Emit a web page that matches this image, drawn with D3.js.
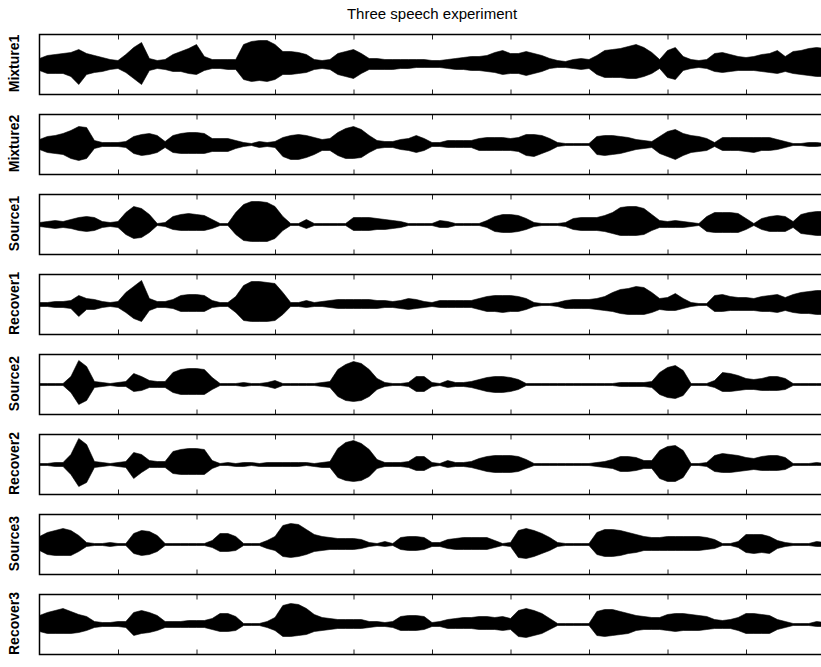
<!DOCTYPE html>
<html>
<head>
<meta charset="utf-8">
<script src="https://cdn.jsdelivr.net/npm/d3@7"></script>
<style>
  html, body { margin: 0; padding: 0; background: #fff; }
  svg { display: block; }
</style>
</head>
<body>
<svg id="chart" width="821" height="667"></svg>
<script>
// ---------------- DATA (envelope amplitudes, sample step 0.1 tick units) ----------------
const titleText = "Three speech experiment";
const panelLabels = ["Mixture1", "Mixture2", "Source1", "Recover1", "Source2", "Recover2", "Source3", "Recover3"];
const xTickValues = [1, 2, 3, 4, 5, 6, 7, 8, 9];
const sampleStep = 0.1;

const mixture1Upper = [6,9,10,11,12,15,11,9,7,5,4,10,17,22,6,4,5,10,13,16,20,8,5,5,5,5,20,23,24,24,20,13,13,12,10,5,4,5,11,13,15,11,6,6,5,5,5,5,5,5,4,4,5,6,7,8,8,9,12,14,11,11,13,11,9,6,4,3,5,6,5,9,14,15,16,18,20,17,12,5,14,17,8,5,4,5,11,12,10,8,7,8,10,11,14,8,13,14,16,17,16];
const mixture1Lower = [6,9,9,9,12,20,10,8,7,5,4,8,14,20,6,4,5,7,7,9,10,6,4,4,5,5,15,17,16,17,15,10,10,9,8,5,4,5,10,12,14,9,5,5,5,5,4,4,3,3,3,3,4,5,5,6,6,7,8,10,9,9,11,9,7,4,3,3,4,5,4,10,13,13,13,14,14,12,9,4,13,15,6,4,3,4,7,8,7,6,6,6,7,8,9,7,9,10,11,12,12];

const mixture2Upper = [5,8,9,11,14,18,17,4,2,2,2,3,8,10,11,9,3,9,11,12,12,11,6,6,6,4,2,1,3,2,3,7,9,10,9,7,5,6,12,16,18,15,9,4,3,3,5,6,9,6,2,2,4,4,4,4,6,7,7,7,6,7,10,10,9,6,2,1,1,1,1,8,9,9,8,7,5,4,3,8,13,15,11,9,8,6,2,7,7,7,7,7,7,7,5,3,1,1,2,2,1];
const mixture2Lower = [5,8,9,10,14,16,14,4,2,2,2,3,9,11,10,8,3,8,9,9,9,9,7,7,7,4,2,1,3,2,3,12,15,15,13,10,6,6,11,14,14,13,8,4,3,3,5,6,8,6,2,2,3,3,3,3,6,6,6,6,6,7,11,12,9,6,2,1,1,1,1,10,11,10,9,7,5,4,3,9,12,15,11,8,7,6,2,6,6,6,7,8,6,6,5,3,1,1,2,2,1];

const source1Upper = [2,3,4,3,5,7,8,7,3,2,3,12,18,16,10,1,2,8,10,11,10,9,5,1,1,12,20,23,23,22,18,8,1,1,5,1,1,1,1,1,7,7,7,6,5,4,3,1,1,1,1,4,3,1,1,1,1,4,8,10,10,9,6,2,1,1,1,2,6,7,7,7,9,12,17,18,18,16,10,4,3,4,3,2,1,8,12,12,12,11,6,1,6,8,9,8,3,10,12,13,13];
const source1Lower = [2,3,4,3,4,6,7,6,3,2,3,10,14,13,8,1,2,5,6,6,6,6,4,1,1,10,16,17,17,17,14,6,1,1,4,1,1,1,1,1,6,6,6,5,5,4,3,1,1,1,1,3,3,1,1,1,1,3,7,8,8,7,5,2,1,1,1,2,5,6,6,6,7,9,11,11,11,10,6,3,3,3,3,2,1,7,8,8,8,8,5,1,5,7,7,7,3,9,10,11,11];

const recover1Upper = [2,2,3,3,4,9,6,5,3,2,3,12,18,24,6,3,3,5,9,10,10,9,4,2,2,8,19,23,23,22,21,12,2,2,4,2,3,4,5,5,5,5,5,4,4,3,4,6,5,3,2,4,4,4,4,4,6,8,9,9,9,8,6,2,1,1,2,4,5,5,5,6,8,12,15,16,18,17,12,6,7,11,6,2,1,1,9,10,8,7,7,6,8,9,10,7,10,12,13,14,14];
const recover1Lower = [2,2,3,3,4,12,5,5,3,2,3,8,14,17,6,3,3,4,7,7,7,7,3,2,2,8,16,17,17,17,16,10,2,2,3,2,2,3,4,4,4,4,4,4,3,3,4,5,4,3,2,3,3,3,3,3,5,7,7,8,7,7,5,2,1,1,2,4,4,4,4,5,6,7,9,10,10,10,8,5,6,6,4,2,1,1,7,7,6,6,6,6,7,7,8,6,8,9,9,10,10];

const source2Upper = [1,1,1,1,8,24,18,3,2,1,2,3,11,8,4,3,3,12,15,16,16,15,7,1,1,1,2,1,1,2,4,1,1,1,1,1,2,3,15,20,23,21,15,6,2,1,1,2,8,8,2,1,4,2,2,3,5,7,8,8,7,5,1,1,1,1,1,1,1,1,1,1,1,1,2,2,2,2,3,12,17,19,14,1,1,1,4,12,11,9,6,5,6,8,8,6,1,1,1,1,1];
const source2Lower = [1,1,1,1,8,20,16,3,2,1,2,2,7,6,3,3,3,8,10,10,10,10,5,1,1,1,2,1,1,2,4,1,1,1,1,1,2,3,12,16,17,16,12,5,2,1,1,2,7,7,2,1,3,2,2,3,5,7,8,8,7,5,1,1,1,1,1,1,1,1,1,1,1,1,2,2,2,2,3,10,13,14,11,1,1,1,3,7,7,6,5,5,6,6,6,5,1,1,1,1,1];

const recover2Upper = [1,1,2,2,10,26,20,3,2,1,2,3,12,10,4,3,3,13,15,16,16,15,4,1,2,1,2,2,1,2,2,2,2,2,2,1,2,3,16,22,24,21,15,5,2,2,2,3,8,8,2,1,4,2,2,3,6,8,9,9,9,8,5,1,1,1,1,1,1,1,1,2,3,5,8,8,7,4,4,14,18,19,14,1,1,2,9,11,10,9,7,6,8,9,9,7,1,1,1,2,1];
const recover2Lower = [1,1,2,2,10,22,18,3,2,1,2,3,14,8,3,3,3,9,10,10,10,10,4,1,1,2,2,1,2,2,2,2,2,2,1,2,3,3,13,16,17,16,12,4,2,2,2,3,6,6,2,1,3,2,2,3,5,7,8,8,8,7,4,1,1,1,1,1,1,1,1,2,3,4,7,7,6,4,4,14,17,17,13,1,1,2,7,8,8,7,6,5,6,6,6,5,1,1,1,1,1];

const source3Upper = [8,12,14,16,14,9,2,1,1,2,1,1,11,14,13,9,1,1,1,1,1,1,4,11,11,8,1,1,1,4,8,19,21,20,15,10,8,7,6,6,6,5,2,1,3,1,7,8,8,7,2,2,5,6,7,7,7,7,4,1,2,14,16,14,11,7,2,1,1,1,1,12,15,15,14,12,10,8,7,7,8,8,8,8,8,7,5,1,1,3,10,10,10,8,4,2,1,1,1,3,2];
const source3Lower = [6,10,11,11,11,7,2,1,1,2,1,1,9,11,10,7,1,1,1,1,1,1,3,7,7,6,1,1,1,4,6,12,13,12,10,7,6,5,5,5,5,4,2,1,2,1,5,6,6,5,2,2,4,5,5,5,5,5,3,1,2,13,14,12,9,6,2,1,1,1,1,10,12,12,11,9,8,6,6,6,6,6,6,6,6,5,4,1,1,3,8,9,8,9,4,2,1,1,1,2,2];

const recover3Upper = [9,12,14,16,13,10,8,3,2,2,3,3,12,14,12,9,3,3,3,4,4,4,6,11,11,8,1,1,1,3,7,19,21,20,16,10,7,6,5,5,5,5,3,3,2,3,8,9,9,8,2,3,5,6,7,7,8,8,7,8,6,14,16,14,11,6,1,1,1,1,1,13,15,15,13,11,9,8,7,7,10,11,11,10,9,8,5,4,5,7,11,11,10,9,5,3,1,1,1,3,2];
const recover3Lower = [7,9,9,9,9,8,6,3,2,2,2,3,11,9,8,6,3,3,3,3,3,3,5,7,7,6,1,1,1,3,6,12,12,11,10,7,6,5,4,4,4,4,3,2,2,3,6,6,6,5,2,2,4,4,4,4,5,5,5,6,5,12,13,11,9,5,1,1,1,1,1,11,12,11,10,9,6,5,5,5,6,7,6,6,6,5,4,4,4,6,9,9,9,9,5,3,1,1,1,2,2];

const panelUpper = [mixture1Upper, mixture2Upper, source1Upper, recover1Upper, source2Upper, recover2Upper, source3Upper, recover3Upper];
const panelLower = [mixture1Lower, mixture2Lower, source1Lower, recover1Lower, source2Lower, recover2Lower, source3Lower, recover3Lower];

// ---------------- LAYOUT ----------------
const svg = d3.select("#chart");
const plotLeft = 39.5, plotRight = 824.5;
const firstTop = 34.5, panelStep = 80, panelHeight = 60;
const tickLen = 5;

const x = d3.scaleLinear().domain([0, 10]).range([plotLeft, plotRight]);

svg.append("text")
  .attr("x", (plotLeft + plotRight) / 2)
  .attr("y", 19)
  .attr("text-anchor", "middle")
  .attr("font-family", "Liberation Sans, Arial, sans-serif")
  .attr("font-size", 15)
  .attr("fill", "#000")
  .text(titleText);

panelLabels.forEach((label, i) => {
  const top = firstTop + i * panelStep;
  const y = d3.scaleLinear().domain([-30, 30]).range([top + panelHeight, top]);
  const g = svg.append("g");

  const clipId = "clip" + i;
  svg.append("clipPath").attr("id", clipId)
    .append("rect").attr("x", plotLeft).attr("y", top).attr("width", plotRight - plotLeft).attr("height", panelHeight);

  const up = panelUpper[i], lo = panelLower[i];
  const pts = up.map((v, k) => ({ t: k * sampleStep, hi: v, lo: lo[k] }));

  const area = d3.area()
    .x(d => x(d.t))
    .y0(d => y(-d.lo))
    .y1(d => y(d.hi))
    .curve(d3.curveLinear);

  g.append("path")
    .datum(pts)
    .attr("clip-path", `url(#${clipId})`)
    .attr("d", area)
    .attr("fill", "#000")
    .attr("stroke", "#000")
    .attr("stroke-width", 0.6);

  // ticks (inside, top and bottom)
  const topAxis = d3.axisTop(x).tickValues(xTickValues).tickSize(-tickLen).tickFormat("");
  const botAxis = d3.axisBottom(x).tickValues(xTickValues).tickSize(-tickLen).tickFormat("");
  const ta = g.append("g").attr("transform", `translate(0,${top})`).call(topAxis);
  const ba = g.append("g").attr("transform", `translate(0,${top + panelHeight})`).call(botAxis);
  [ta, ba].forEach(a => {
    a.select(".domain").remove();
    a.selectAll(".tick line").attr("stroke", "#222").attr("stroke-width", 1);
  });

  // frame
  g.append("rect")
    .attr("x", plotLeft).attr("y", top)
    .attr("width", plotRight - plotLeft).attr("height", panelHeight)
    .attr("fill", "none").attr("stroke", "#000").attr("stroke-width", 1.5);

  // y label
  svg.append("text")
    .attr("transform", `translate(19,${top + panelHeight / 2 - 1}) rotate(-90)`)
    .attr("text-anchor", "middle")
    .attr("font-family", "Liberation Sans, Arial, sans-serif")
    .attr("font-weight", "bold")
    .attr("font-size", 14)
    .attr("fill", "#000")
    .text(label);
});
</script>
</body>
</html>
